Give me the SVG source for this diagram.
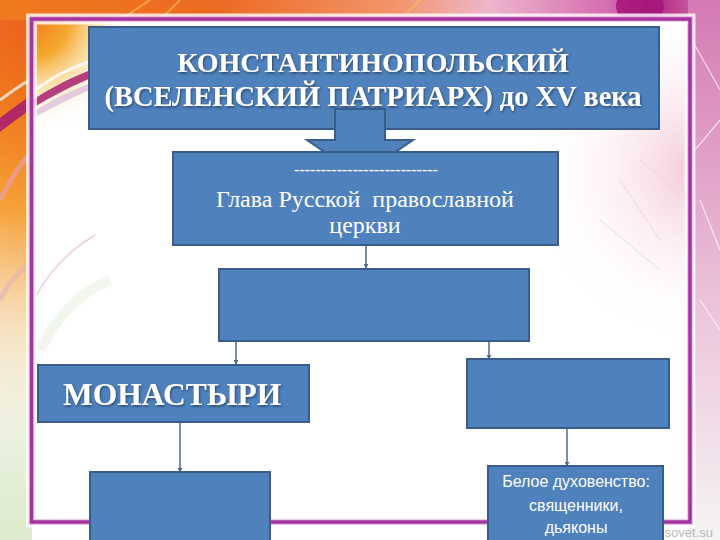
<svg xmlns="http://www.w3.org/2000/svg" width="720" height="540" viewBox="0 0 720 540">
<defs>
<style>
.box{fill:#4F81BD;stroke:#385D8A;stroke-width:2}
.conn{stroke:#4A6A94;stroke-width:1.5;fill:none;marker-end:url(#ah)}
.tb{font-family:"Liberation Serif","Times New Roman",serif;font-weight:bold;fill:#fff;text-anchor:middle}
.tr{font-family:"Liberation Serif","Times New Roman",serif;fill:#fff;text-anchor:middle;white-space:pre}
.ts{font-family:"Liberation Sans",Arial,sans-serif;fill:#fff;text-anchor:middle}
</style>
<marker id="ah" viewBox="0 0 6 6" refX="5" refY="3" markerWidth="5" markerHeight="5" markerUnits="userSpaceOnUse" orient="auto">
<path d="M0,0 L6,3 L0,6 z" fill="#4A6A94"/>
</marker>
<filter id="sh" x="-5%" y="-20%" width="110%" height="140%">
<feDropShadow dx="1" dy="1.5" stdDeviation="0.8" flood-color="#1c2f4a" flood-opacity="0.7"/>
</filter>
<radialGradient id="gOr" cx="60" cy="0" r="480" gradientUnits="userSpaceOnUse">
<stop offset="0" stop-color="#E9561C"/>
<stop offset="0.25" stop-color="#F07A1E"/>
<stop offset="0.45" stop-color="#F5A23A"/>
<stop offset="0.7" stop-color="#F9D6A8" stop-opacity="0.6"/>
<stop offset="1" stop-color="#FFFFFF" stop-opacity="0"/>
</radialGradient>
<radialGradient id="gPk" cx="650" cy="0" r="360" gradientUnits="userSpaceOnUse">
<stop offset="0" stop-color="#B8238A"/>
<stop offset="0.2" stop-color="#D870AC"/>
<stop offset="0.55" stop-color="#EDB8D2"/>
<stop offset="1" stop-color="#F6E6EE" stop-opacity="0"/>
</radialGradient>
<linearGradient id="gTop" x1="0" y1="0" x2="1" y2="0">
<stop offset="0" stop-color="#F07A1E"/>
<stop offset="0.3" stop-color="#EC6A22"/>
<stop offset="0.55" stop-color="#F2956A"/>
<stop offset="0.68" stop-color="#EDB6CC"/>
<stop offset="0.85" stop-color="#D46AAE"/>
<stop offset="0.9" stop-color="#B0207E"/>
<stop offset="1" stop-color="#D27EB4"/>
</linearGradient>
<linearGradient id="gR" x1="0" y1="0" x2="0" y2="1">
<stop offset="0" stop-color="#D47AB2"/>
<stop offset="0.6" stop-color="#EDC8DC"/>
<stop offset="1" stop-color="#F4F4F4"/>
</linearGradient>
<radialGradient id="gInR" cx="700" cy="170" r="170" gradientUnits="userSpaceOnUse">
<stop offset="0" stop-color="#EFB8C8" stop-opacity="0.8"/>
<stop offset="1" stop-color="#FFFFFF" stop-opacity="0"/>
</radialGradient>
<radialGradient id="gInL" cx="30" cy="20" r="110" gradientUnits="userSpaceOnUse">
<stop offset="0" stop-color="#F07A1E"/>
<stop offset="0.35" stop-color="#F5A830"/>
<stop offset="0.6" stop-color="#F8D080" stop-opacity="0.7"/>
<stop offset="1" stop-color="#FFFFFF" stop-opacity="0"/>
</radialGradient>
<linearGradient id="gGr" x1="0" y1="0" x2="0" y2="1">
<stop offset="0" stop-color="#FBEBD8"/>
<stop offset="0.5" stop-color="#F2F5EA"/>
<stop offset="1" stop-color="#DDEBCD"/>
</linearGradient>
</defs>

<!-- background -->
<g id="background">
<rect width="720" height="540" fill="#FFFFFF"/>
<rect x="0" y="150" width="32" height="390" fill="url(#gGr)"/>
<rect x="0" y="0" width="720" height="540" fill="url(#gOr)"/>
<rect x="0" y="0" width="720" height="540" fill="url(#gPk)"/>
<rect x="0" y="0" width="720" height="20" fill="url(#gTop)"/>
<rect x="688" y="0" width="32" height="540" fill="url(#gR)"/>
<path d="M0,118 C30,95 60,75 95,60 L100,68 C65,85 35,105 0,132 Z" fill="#A8206E" opacity="0.9"/>
<path d="M0,100 C40,70 80,50 130,35" stroke="#FFFFFF" stroke-width="3" fill="none" opacity="0.7"/>
<path d="M150,0 L120,20 M180,0 L160,20 M420,0 L400,20" stroke="#F8C060" stroke-width="2" opacity="0.6"/>
<path d="M0,200 C10,180 20,165 32,150" stroke="#E8A0B8" stroke-width="5" fill="none" opacity="0.6"/>
<path d="M0,300 C10,280 20,270 32,262" stroke="#E8B0B8" stroke-width="5" fill="none" opacity="0.6"/>
<ellipse cx="640" cy="6" rx="24" ry="18" fill="#A5157A" opacity="0.85"/>
<path d="M692,40 L720,90 M695,150 L720,120 M700,200 L720,250 M700,300 L720,330" stroke="#FFFFFF" stroke-width="1.2" opacity="0.7"/>
<!-- inner area -->
<rect x="33" y="21" width="655" height="499" fill="#FFFFFF"/>
<rect x="33" y="21" width="655" height="499" fill="url(#gInR)"/>
<rect x="33" y="21" width="140" height="140" fill="url(#gInL)"/>
<path d="M33,100 C50,88 70,78 100,66 L100,74 C72,86 52,96 33,108 Z" fill="#A8206E" opacity="0.85"/>
<path d="M33,112 C55,98 75,88 100,80 L100,86 C78,94 56,106 33,118 Z" fill="#D8B8D8" opacity="0.7"/>
<path d="M33,92 C55,75 70,68 100,58" stroke="#FFFFFF" stroke-width="3" fill="none" opacity="0.8"/>
<path d="M36,296 C50,270 70,250 95,235" stroke="#E8B8C4" stroke-width="1.5" fill="none" opacity="0.7"/>
<path d="M40,350 C60,310 85,290 110,280" stroke="#E6F0DE" stroke-width="10" fill="none" opacity="0.5"/>
<path d="M620,180 L660,240 M640,160 L688,200 M600,220 L660,270" stroke="#F3D6DE" stroke-width="1.2" opacity="0.7"/>
<text x="713" y="537" font-family="Liberation Sans,Arial,sans-serif" font-size="13" fill="#B8B8B8" text-anchor="end">sovet.su</text>
</g>

<!-- frame -->
<g id="frame">
<rect x="31.5" y="19" width="658.5" height="503" fill="none" stroke="#FFFFFF" stroke-width="11" opacity="0.8"/>
<rect x="31.5" y="19" width="658.5" height="503" fill="none" stroke="#E8A0D8" stroke-width="6" opacity="0.6"/>
<rect x="31.5" y="19" width="658.5" height="503" fill="none" stroke="#A2369E" stroke-width="3.5"/>
</g>

<g id="n-patriarch">
<rect class="box" x="89" y="27" width="570" height="102"/>
<text class="tb" x="373" y="72" font-size="28" filter="url(#sh)">КОНСТАНТИНОПОЛЬСКИЙ</text>
<text class="tb" x="373" y="106" font-size="28.5" filter="url(#sh)">(ВСЕЛЕНСКИЙ ПАТРИАРХ) до XV века</text>
</g>

<g id="connectors">
<path id="block-arrow" d="M335,109 H385 V140 H413 L360,176 L307,140 H335 Z" fill="#4F81BD" stroke="#385D8A" stroke-width="2"/>
<line class="conn" x1="366" y1="246" x2="366" y2="268"/>
<line class="conn" x1="236" y1="342" x2="236" y2="364"/>
<line class="conn" x1="489" y1="342" x2="489" y2="359"/>
<line class="conn" x1="180" y1="423" x2="180" y2="472"/>
<line class="conn" x1="567" y1="429" x2="567" y2="466"/>
</g>

<g id="n-head">
<rect class="box" x="173" y="152" width="385" height="93"/>
<text class="tr" x="366" y="175" font-size="16">---------------------------</text>
<text class="tr" x="365" y="207" font-size="24" xml:space="preserve">Глава Русской  православной</text>
<text class="tr" x="365" y="233" font-size="24">церкви</text>
</g>

<g id="n-mid">
<rect class="box" x="219" y="269" width="310" height="72"/>
</g>

<g id="n-monasteries">
<rect class="box" x="38" y="365" width="271" height="57"/>
<text class="tb" x="63" y="405" font-size="31.5" filter="url(#sh)" style="text-anchor:start">МОНАСТЫРИ</text>
</g>

<g id="n-right">
<rect class="box" x="467" y="359" width="202" height="69"/>
</g>

<g id="n-bottom-left">
<rect class="box" x="90" y="472" width="180" height="72"/>
</g>

<g id="n-white-clergy">
<rect class="box" x="488" y="466" width="175" height="78"/>
<text class="ts" x="576" y="487" font-size="16">Белое духовенство:</text>
<text class="ts" x="576" y="511" font-size="16">священники,</text>
<text class="ts" x="576" y="533" font-size="16">дьяконы</text>
</g>
</svg>
